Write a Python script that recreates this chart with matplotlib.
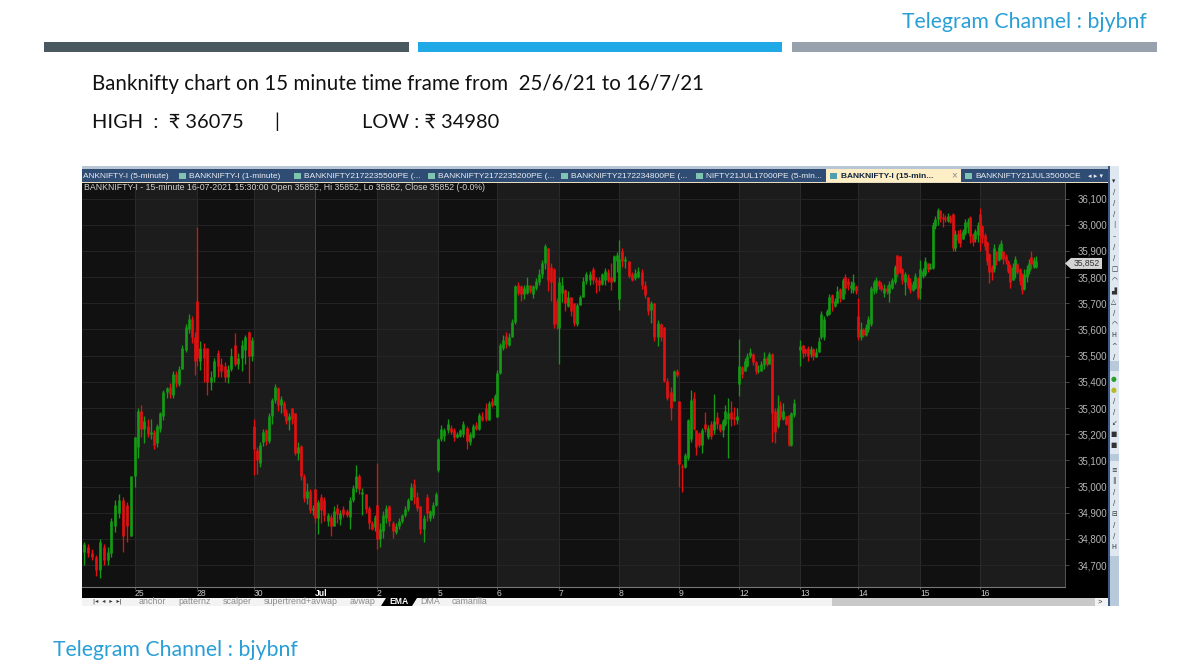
import matplotlib
matplotlib.use("Agg")
import matplotlib.pyplot as plt
from matplotlib.patches import Rectangle, Polygon
from matplotlib.transforms import ScaledTranslation

# ---------- data: (open, high, low, close) for each session ----------
jun24 = [(34750,34790,34700,34780),(34770,34780,34730,34745),(34745,34760,34720,34730),(34730,34740,34660,34680),
         (34680,34800,34650,34790),(34770,34780,34700,34720),(34720,34770,34700,34750),(34745,34880,34730,34870),
         (34850,34950,34825,34930),(34900,34970,34880,34950),(34950,34960,34750,34810),(34930,34940,34790,34850),
         (34810,35040,34810,35040)]
jun25 = [(35040,35190,35000,35190),(35150,35300,35110,35290),(35290,35310,35190,35220),(35220,35270,35165,35250),
         (35230,35260,35190,35200),(35200,35260,35180,35210),(35210,35215,35145,35160),(35165,35240,35150,35230),
         (35220,35285,35210,35280),(35270,35370,35255,35360),(35360,35380,35340,35375),(35380,35395,35340,35355),
         (35350,35440,35340,35430),(35430,35440,35380,35395),(35390,35460,35385,35450),(35450,35540,35450,35530),
         (35520,35620,35515,35610),(35600,35660,35585,35640),(35640,35650,35550,35570),(35570,35590,35427,35480)]
jun28 = [(35710,35990,35460,35490),(35480,35555,35445,35530),(35530,35550,35400,35490),(35530,35530,35350,35400),
         (35400,35440,35370,35420),(35420,35490,35400,35480),(35510,35520,35420,35460),(35470,35490,35420,35440),
         (35460,35475,35400,35420),(35420,35465,35395,35450),(35450,35530,35440,35500),(35540,35585,35460,35470),
         (35470,35510,35450,35490),(35490,35560,35440,35540),(35520,35580,35470,35570),(35590,35595,35395,35500),
         (35500,35570,35480,35560)]
jun30 = [(35230,35260,35045,35145),(35140,35150,35050,35100),(35090,35170,35075,35160),(35170,35220,35155,35210),
         (35215,35220,35160,35175),(35175,35280,35165,35270),(35270,35340,35240,35330),(35330,35390,35320,35380),
         (35375,35380,35290,35310),(35310,35345,35280,35335),(35320,35325,35270,35285),(35285,35295,35240,35250),
         (35255,35280,35215,35270),(35300,35300,35240,35260),(35280,35280,35120,35130),(35130,35170,35100,35150),
         (35155,35160,35025,35040),(35040,35050,34940,34955),(34955,35015,34935,34985),(34985,34990,34900,34910),
         (34910,34930,34890,34920)]
jul01 = [(34990,34990,34860,34880),(34880,34950,34820,34940),(34960,34970,34860,34910),(34950,34960,34870,34890),
         (34870,34900,34850,34890),(34885,34895,34810,34850),(34850,34925,34850,34905),(34920,34935,34860,34895),
         (34875,34910,34855,34900),(34915,34925,34885,34895),(34905,34915,34885,34890),(34885,34960,34840,34950),
         (34950,35005,34942,34995),(34995,35082,34980,35040),(35040,35050,34970,34990),(34970,34995,34892,34980),
         (34970,34970,34900,34915),(34920,34925,34840,34860),(34860,34870,34835,34840),(34845,34890,34830,34885)]
jul02 = [(34930,35090,34760,34800),(34800,34860,34770,34840),(34830,34905,34805,34890),(34880,34930,34860,34920),
         (34925,34930,34850,34870),(34860,34870,34805,34830),(34825,34860,34820,34850),(34850,34880,34840,34870),
         (34870,34895,34860,34890),(34890,34925,34885,34915),(34915,34955,34905,34950),(34950,35012,34950,35000),
         (35010,35030,34935,34960),(34960,34980,34905,34920),(34925,34925,34820,34840),(34840,34890,34790,34880),
         (34960,34970,34870,34900),(34880,34910,34870,34905),(34890,34940,34880,34930),(34930,34980,34925,34970)]
jul05 = [(35065,35185,35055,35180),(35180,35235,35175,35220),(35195,35225,35175,35215),(35215,35260,35205,35240),
         (35225,35235,35200,35210),(35215,35225,35175,35190),(35190,35210,35185,35200),(35195,35220,35190,35215),
         (35200,35250,35190,35240),(35225,35230,35145,35175),(35170,35210,35160,35200),(35190,35240,35185,35230),
         (35235,35245,35215,35220),(35220,35280,35215,35275),(35270,35285,35250,35255),(35300,35320,35250,35260),
         (35255,35325,35255,35320),(35325,35340,35305,35310),(35310,35355,35310,35345)]
jul06 = [(35265,35445,35265,35435),(35435,35550,35430,35540),(35530,35580,35520,35560),(35575,35590,35530,35545),
         (35540,35585,35535,35570),(35570,35640,35570,35630),(35630,35770,35620,35765),(35770,35780,35730,35740),
         (35765,35770,35710,35735),(35735,35770,35715,35760),(35740,35800,35735,35770),(35770,35770,35740,35745),
         (35735,35770,35720,35765),(35760,35795,35750,35785),(35780,35830,35770,35810),(35810,35865,35795,35855),
         (35855,35925,35830,35920),(35910,35910,35745,35790),(35840,35855,35707,35780),(35830,35835,35605,35620),
         (35710,35720,35600,35620)]
jul07 = [(35605,35800,35470,35780),(35740,35800,35705,35770),(35750,35755,35670,35700),(35690,35745,35685,35725),
         (35725,35725,35650,35670),(35700,35700,35615,35625),(35620,35700,35615,35695),(35695,35730,35695,35725),
         (35725,35800,35725,35785),(35785,35820,35775,35810),(35790,35825,35770,35810),(35830,35840,35775,35790),
         (35790,35800,35740,35780),(35790,35800,35745,35770),(35775,35815,35770,35810),(35790,35835,35770,35825),
         (35820,35830,35780,35790),(35800,35855,35750,35780),(35785,35885,35780,35880),(35860,35895,35820,35885)]
jul08 = [(35715,35940,35675,35870),(35900,35910,35840,35860),(35860,35880,35835,35870),(35860,35860,35795,35805),
         (35810,35820,35785,35790),(35795,35830,35790,35815),(35800,35840,35795,35825),(35820,35830,35755,35770),
         (35770,35785,35720,35730),(35725,35725,35655,35670),(35675,35710,35625,35700),(35700,35700,35555,35570),
         (35570,35635,35535,35625),(35620,35625,35555,35570),(35610,35610,35400,35405),(35405,35415,35330,35340),
         (35360,35380,35255,35300),(35325,35445,35325,35440),(35440,35450,35420,35425)]
jul09 = [(35325,35325,35000,35085),(35080,35085,34980,35075),(35075,35130,35070,35120),(35110,35260,35100,35255),
         (35180,35370,35170,35330),(35340,35360,35215,35220),(35215,35215,35120,35150),(35205,35210,35150,35160),
         (35160,35225,35130,35215),(35240,35285,35210,35220),(35190,35235,35180,35225),(35240,35250,35180,35195),
         (35215,35355,35200,35250),(35265,35285,35220,35240),(35240,35240,35210,35215),(35215,35260,35190,35250),
         (35240,35310,35230,35290),(35260,35340,35110,35280),(35285,35325,35230,35260),(35265,35305,35235,35260),
         (35255,35300,35240,35270)]
jul12 = [(35390,35565,35345,35460),(35455,35460,35415,35430),(35440,35490,35440,35480),(35460,35510,35455,35500),
         (35500,35530,35490,35515),(35505,35510,35465,35475),(35475,35480,35430,35440),(35440,35465,35435,35445),
         (35440,35480,35440,35470),(35465,35515,35450,35490),(35490,35500,35460,35470),(35470,35515,35470,35505),
         (35505,35510,35170,35280),(35290,35300,35165,35210),(35230,35350,35225,35300),(35310,35325,35255,35265),
         (35260,35320,35255,35290),(35270,35270,35235,35240),(35275,35275,35155,35160),(35160,35285,35155,35280),
         (35275,35335,35265,35320)]
jul13 = [(35520,35560,35460,35535),(35540,35540,35490,35510),(35525,35530,35500,35510),(35530,35535,35480,35500),
         (35505,35535,35495,35525),(35525,35530,35485,35500),(35495,35530,35495,35515),(35515,35570,35515,35555),
         (35570,35670,35565,35660),(35570,35650,35560,35640),(35655,35680,35650,35670),(35660,35735,35655,35725),
         (35730,35735,35670,35700),(35690,35720,35685,35710),(35700,35765,35700,35745),(35755,35760,35705,35720),
         (35715,35795,35715,35790),(35800,35810,35735,35760),(35785,35795,35750,35770),(35760,35785,35740,35770),
         (35750,35810,35740,35780),(35765,35770,35735,35745)]
jul14 = [(35650,35720,35560,35570),(35570,35630,35560,35600),(35600,35605,35570,35580),(35580,35620,35575,35610),
         (35600,35650,35590,35640),(35620,35765,35615,35760),(35745,35790,35735,35780),(35750,35800,35740,35790),
         (35785,35790,35755,35765),(35770,35780,35745,35755),(35740,35775,35725,35760),(35760,35770,35735,35745),
         (35740,35785,35705,35775),(35760,35795,35755,35790),(35780,35845,35775,35840),(35885,35885,35800,35810),
         (35880,35880,35815,35820),(35830,35835,35775,35790),(35780,35820,35730,35810),(35800,35810,35760,35770),
         (35780,35795,35740,35750),(35750,35785,35745,35775),(35760,35815,35755,35805),(35795,35800,35715,35725)]
jul15 = [(35760,35865,35715,35830),(35805,35835,35795,35825),(35810,35875,35805,35860),(35855,35855,35820,35830),
         (35830,35855,35830,35840),(35835,36010,35830,36000),(35995,36035,35985,36020),(36020,36063,36000,36055),
         (36055,36057,36012,36025),(36030,36045,35993,36020),(36025,36038,36012,36020),(36015,36045,36010,36035),
         (36030,36038,36005,36010),(36040,36045,35898,35910),(35910,35980,35900,35965),(35965,35980,35930,35940),
         (35970,35985,35915,35930),(35945,35985,35945,35975),(35970,36020,35960,36010),(35990,36025,35968,36015),
         (36030,36032,35930,35955),(35965,35968,35918,35935),(35945,35985,35935,35975),(35960,36010,35935,36000)]
jul16 = [(36040,36063,35898,35965),(35995,36000,35930,35950),(35960,35968,35905,35920),(35935,35936,35847,35860),
         (35890,35892,35777,35820),(35840,35845,35790,35820),(35830,35925,35820,35910),(35900,35900,35845,35860),
         (35865,35925,35860,35915),(35880,35942,35870,35930),(35900,35900,35850,35870),(35880,35890,35850,35860),
         (35860,35865,35815,35825),(35840,35850,35760,35780),(35790,35855,35790,35840),(35830,35880,35795,35870),
         (35850,35855,35810,35820),(35830,35835,35770,35785),(35800,35815,35735,35750),(35755,35830,35750,35810),
         (35800,35845,35780,35830),(35825,35870,35810,35855),(35875,35898,35830,35850),(35840,35875,35835,35865),
         (35840,35880,35835,35860)]

sessions = [jun24, jun25, jun28, jun30, jul01, jul02, jul05, jul06, jul07, jul08, jul09, jul12, jul13, jul14, jul15, jul16]
session_labels = ["", "25", "28", "30", "Jul", "2", "5", "6", "7", "8", "9", "12", "13", "14", "15", "16"]
price_ticks = [34700, 34800, 34900, 35000, 35100, 35200, 35300, 35400, 35500, 35600, 35700, 35800, 35900, 36000, 36100]
last_price = 35852

title_line = "Banknifty chart on 15 minute time frame from  25/6/21 to 16/7/21"
high_line = ["HIGH  :  ₹ 36075", "|", "LOW : ₹ 34980"]
channel = "Telegram Channel : bjybnf"
info_line = "BANKNIFTY-I - 15-minute 16-07-2021 15:30:00 Open 35852, Hi 35852, Lo 35852, Close 35852 (-0.0%)"
top_tabs = [("ANKNIFTY-I (5-minute)", 83), ("BANKNIFTY-I (1-minute)", 189), ("BANKNIFTY2172235500PE (...", 304),
            ("BANKNIFTY2172235200PE (...", 438), ("BANKNIFTY2172234800PE (...", 571), ("NIFTY21JUL17000PE (5-min...", 706),
            ("BANKNIFTY21JUL35000CE", 975)]
sheet_tabs = [("anchor", 139), ("patternz", 178), ("scalper", 223), ("supertrend+avwap", 264), ("avwap", 350),
              ("DMA", 420), ("camarilla", 452)]

# ---------- layout constants (pixels of the 1200x667 slide) ----------
SESSION_START = [84, 135, 197, 254, 315, 377, 438, 497, 559, 619, 679, 739, 800, 858, 920, 980]
SESSION_END   = [131, 195, 252, 313, 375, 436, 495, 557, 617, 677, 737, 794, 856, 918, 978, 1036]
PX_L, PX_R, PX_T, PX_B = 82, 1065, 183, 587
UP, DOWN = "#149a14", "#e21010"
SANS = ["Lato", "DejaVu Sans"]
UI = ["Liberation Sans", "DejaVu Sans"]

fig = plt.figure(figsize=(12, 6.67), dpi=100, facecolor="white")
bg = fig.add_axes([0, 0, 1, 1], zorder=0)
bg.set_xlim(0, 1200); bg.set_ylim(667, 0); bg.axis("off")

def box(x0, y0, x1, y1, color, z=1):
    bg.add_patch(Rectangle((x0, y0), x1 - x0, y1 - y0, facecolor=color, edgecolor="none", zorder=z))

# slide header
box(44, 42, 409, 52, "#4a5960"); box(418, 42, 782, 52, "#1fa9e6"); box(792, 42, 1157, 52, "#98a2ad")
bg.text(902, 22, channel, fontsize=15.3, color="#2a9fd6", family=SANS, va="center", ha="left")
bg.text(53, 650, channel, fontsize=15.3, color="#2a9fd6", family=SANS, va="center", ha="left")
bg.text(92, 84, title_line, fontsize=14.8, color="#111111", family=SANS, va="center")
bg.text(92, 122, high_line[0], fontsize=14.4, color="#111111", family=SANS, va="center")
bg.text(274, 122, high_line[1], fontsize=14.4, color="#111111", family=SANS, va="center")
bg.text(362, 122, high_line[2], fontsize=14.4, color="#111111", family=SANS, va="center")

# application window
box(82, 166, 1119, 606, "#000000")
box(82, 166, 1108, 169, "#b9c6d6", 2)
box(82, 169, 1108, 182, "#2f4c74", 2)
box(82, 182, 1108, 183, "#e8dcc0", 3)
for label, x in top_tabs:
    bg.text(x, 176, label, fontsize=6.0, color="#e8edf3", family=UI, va="center", zorder=4)
    if x > 100:
        box(x - 10, 172.5, x - 3, 179, "#7fc4b0", 4)
box(826, 169, 961, 182, "#fdeec6", 3)
box(830, 172.5, 837, 179, "#4f9fb0", 4)
bg.text(841, 176, "BANKNIFTY-I (15-min...", fontsize=6.0, color="#10243c", family=UI, weight="bold", va="center", zorder=4)
bg.text(954, 175.5, "×", fontsize=7, color="#889", family=UI, ha="center", va="center", zorder=4)
bg.text(1096, 176, "◂ ▸ ▾", fontsize=5, color="#e8edf3", family="DejaVu Sans", ha="center", va="center", zorder=4)

# bottom sheet bar
box(82, 598, 1108, 606, "#f3f3f3", 2)
box(832, 598, 1095, 606, "#c9c9c9", 3)
bg.text(1100, 602, ">", fontsize=5.5, color="#333333", family=UI, ha="center", va="center", zorder=4)
bg.text(107, 601.5, "|◂  ◂  ▸  ▸|", fontsize=4.5, color="#333333", family="DejaVu Sans", ha="center", va="center", zorder=4)
for label, x in sheet_tabs:
    bg.text(x, 601.5, label, fontsize=6.4, color="#8a8a8a", family=UI, va="center", zorder=4)
bg.add_patch(Polygon([(381, 606), (386, 598), (417, 598), (412, 606)], facecolor="#000000", zorder=3))
bg.text(398.5, 601.8, "EMA", fontsize=6.2, color="white", family=UI, weight="bold", ha="center", va="center", zorder=4)

# right toolbar
box(1108, 166, 1119, 606, "#dfe7f0", 2)
box(1108, 166, 1110, 606, "#3c5a84", 3)
box(1110, 556, 1119, 606, "#b9c9dc", 3)
box(1110, 361, 1119, 371, "#b9c9dc", 3)
box(1110, 454, 1119, 461, "#b9c9dc", 3)
glyph_kw = dict(fontsize=4.8, family=["DejaVu Sans"], ha="center", va="center", zorder=4)
for y, g in zip(range(181, 360, 11), ["▾", "/", "/", "/", "|", "–", "/", "/", "□", "◠", "▟", "△", "/", "◠", "H", "^", "/"]):
    bg.text(1114, y, g, color="#333333", **glyph_kw)
for y, g in zip(range(379, 452, 11), ["●", "●", "/", "/", "↙", "■", "■"]):
    col = "#2aa02a" if y == 379 else ("#b8b820" if y == 390 else "#333333")
    bg.text(1114, y, g, color=col, **glyph_kw)
for y, g in zip(range(470, 552, 11), ["≡", "‖", "/", "/", "⊟", "/", "/", "H"]):
    bg.text(1114, y, g, color="#333333", **glyph_kw)

# price chart: x axis runs in slide columns, y axis in rupees
ppx = 100 / 26.18
ax = fig.add_axes([PX_L / 1200, 1 - PX_B / 667, (PX_R - PX_L) / 1200, (PX_B - PX_T) / 667], zorder=2)
ax.set_xlim(PX_L, PX_R)
ax.set_ylim(34700 - (PX_B - 565.2) * ppx, 36100 + (198.5 - PX_T) * ppx)
ax.set_facecolor("#111111")
edges = SESSION_START[1:] + [PX_R]
for i in range(len(edges) - 1):
    if i % 2 == 0:
        ax.axvspan(edges[i], edges[i + 1], facecolor="#1c1c1c", edgecolor="none", zorder=0)
for x, lab in zip(SESSION_START[1:], session_labels[1:]):
    ax.axvline(x, color="#444444" if lab == "Jul" else "#2b2b2b", lw=0.7, zorder=1)
for p in price_ticks:
    ax.axhline(p, color="#272727", lw=0.6, zorder=1)

for day, start, end in zip(sessions, SESSION_START, SESSION_END):
    step = (end - start) / (len(day) - 1)
    for i, (o, h, l, c) in enumerate(day):
        x = start + i * step
        col = UP if c >= o else DOWN
        ax.vlines(x, l, h, color=col, lw=0.95, zorder=3)
        ax.vlines(x, min(o, c), max(o, c), color=col, lw=1.9, zorder=4)

for s in ("top", "left"):
    ax.spines[s].set_visible(False)
ax.spines["right"].set_color("#555555"); ax.spines["right"].set_linewidth(0.7)
ax.spines["bottom"].set_color("#777777"); ax.spines["bottom"].set_linewidth(0.8)

ax.yaxis.tick_right()
ax.set_yticks(price_ticks)
ax.set_yticklabels([f"{p:,}" for p in price_ticks], fontsize=7, color="#b5b5b5", family=UI)
ax.tick_params(axis="y", length=3, width=0.5, color="#666666", pad=6)
ax.set_xticks(SESSION_START[1:])
ax.set_xticklabels(session_labels[1:], fontsize=6.2, color="#c8c8c8", family=UI, ha="left")
shift = ScaledTranslation(2 / 100, 0, fig.dpi_scale_trans)
for t, lab in zip(ax.get_xticklabels(), session_labels[1:]):
    t.set_transform(t.get_transform() + shift)
    if lab == "Jul":
        t.set_fontweight("bold"); t.set_color("#ffffff")
ax.tick_params(axis="x", length=1.2, width=0.5, color="#888888", pad=0)

# header line of the chart
ax.text(84, 1, info_line, transform=ax.get_xaxis_transform(), fontsize=6.3, color="#cfcfcf", family=UI,
        va="top", ha="left", zorder=6)

# last price tag on the price scale
px = PX_R
tag_h = 5.5 * ppx
ax.add_patch(Polygon([(px, last_price), (px + 6, last_price + tag_h), (px + 37, last_price + tag_h),
                      (px + 37, last_price - tag_h), (px + 6, last_price - tag_h)],
                     facecolor="#d4d4d4", edgecolor="none", clip_on=False, zorder=6))
ax.text(px + 21.5, last_price, f"{last_price:,}", fontsize=6.2, color="#333333", family=UI, ha="center", va="center", zorder=7)

fig.savefig("out.png", dpi=100, facecolor="white")
